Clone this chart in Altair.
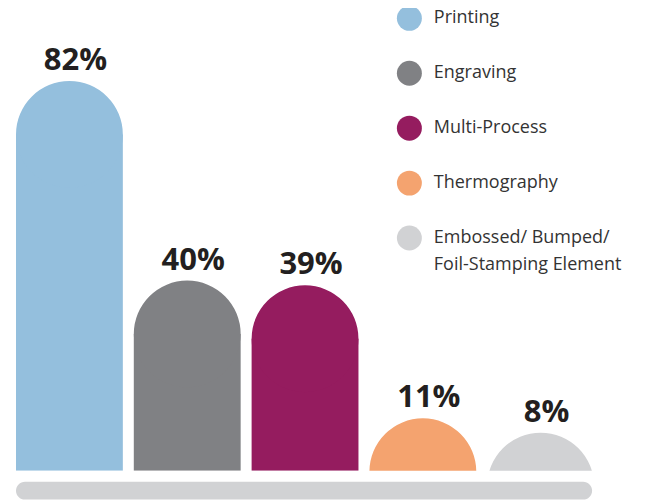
import altair as alt
import pandas as pd

categories = ["Printing", "Engraving", "Multi-Process", "Thermography",
              "Embossed/ Bumped/ Foil-Stamping Element"]
values = [82, 40, 39, 11, 8]
labels = ["82%", "40%", "39%", "11%", "8%"]
colors = ["#94bfdd", "#808184", "#951c5f", "#f4a36f", "#d1d2d4"]

df = pd.DataFrame({"category": categories, "value": values, "label": labels})

W = 579
H = 455
R = 53.5  # cap radius (half bar width)

NB = "\u00a0"
label_expr = (
    "datum.label == 'Embossed/ Bumped/ Foil-Stamping Element' ? "
    f"['{NB}Embossed/ Bumped/', '{NB}Foil-Stamping Element'] : "
    f"datum.label == 'Engraving' ? '{NB}Engraving' : datum.label"
)

y_scale = alt.Scale(domain=[0, 95.6], nice=False, zero=False)
x_enc = alt.X("category:N", sort=categories, axis=None,
              scale=alt.Scale(paddingInner=0.093, paddingOuter=0))
color_enc = alt.Color(
    "category:N", sort=categories,
    scale=alt.Scale(domain=categories, range=colors),
    legend=alt.Legend(
        orient="none", legendX=381.5, legendY=-10.5, title=None,
        symbolType="circle", symbolSize=625, symbolStrokeWidth=0,
        labelFontSize=18, labelFont="Open Sans", labelColor="#333333",
        labelOffset=12, rowPadding=30, labelLimit=400, padding=0,
        labelExpr=label_expr,
    ),
)

base = alt.Chart(df)

bars = base.mark_bar(yOffset=R, clip=True).encode(
    x=x_enc,
    y=alt.Y("value:Q", scale=y_scale, axis=None),
    y2=alt.datum(0),
    color=color_enc,
)

caps = base.mark_circle(size=(2 * R) ** 2, yOffset=R, clip=True, opacity=1).encode(
    x=x_enc,
    y=alt.Y("value:Q", scale=y_scale, axis=None),
    color=color_enc,
)

text = base.mark_text(dy=-4, dx=6, baseline="bottom", fontSize=31, fontWeight="bold",
                      font="Open Sans", color="#231f20").encode(
    x=x_enc,
    y=alt.Y("value:Q", scale=y_scale, axis=None),
    text="label:N",
)

floor = alt.Chart(pd.DataFrame({"k": [0]})).mark_rect(
    cornerRadius=9, color="#d1d2d4").encode(
    x=alt.value(0), x2=alt.value(W - 2),
    y=alt.value(H + 11), y2=alt.value(H + 29),
)

chart = alt.layer(floor, bars, caps, text).properties(
    width=W, height=H,
    padding={"left": 8, "top": 8, "right": 60, "bottom": 30},
    autosize=alt.AutoSizeParams(type="none"),
).configure(
    style={"guide-label": {"lineHeight": 27}},
    view=alt.ViewConfig(stroke=None),
)

chart.save("out.html", embed_options={"renderer": "svg", "actions": False})
